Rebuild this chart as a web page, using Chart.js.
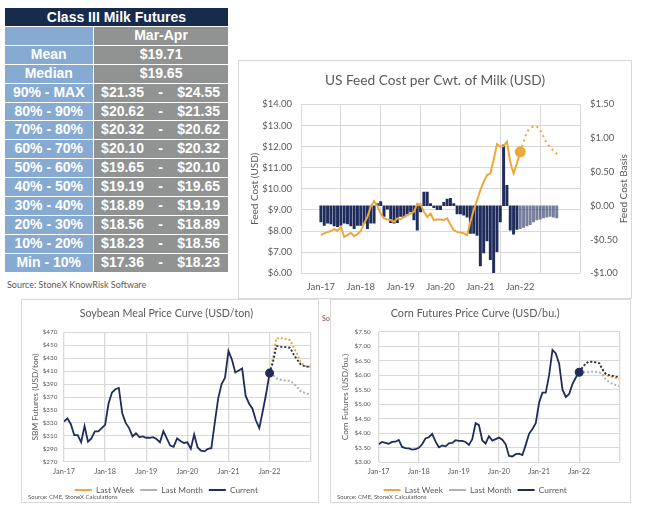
<!DOCTYPE html>
<html>
<head>
<meta charset="utf-8">
<script src="https://cdn.jsdelivr.net/npm/chart.js@4.4.0/dist/chart.umd.min.js"></script>
<style>
  body { margin:0; width:653px; height:515px; background:#fff; position:relative; overflow:hidden; }
  .box { position:absolute; border:1px solid #d9d9d9; background:#fff; }
  .box canvas { position:absolute; left:0; top:0; }
  #milk { position:absolute; left:5px; top:8px; width:223px; font-family:"Liberation Sans", Arial, sans-serif; font-weight:bold; font-size:14px; color:#fff; }
  #milk .head { height:18px; line-height:18px; background:#172b4d; text-align:center; }
  #milk .row { display:flex; height:17.9px; line-height:17.9px; margin-top:1px; }
  #milk .lab { width:87.5px; background:#87aad3; text-align:center; margin-right:1.6px; }
  #milk .val { flex:1; background:#909392; text-align:center; }
  #milk .rng { display:flex; justify-content:space-between; padding:0 8px 0 7px; }
  .src { position:absolute; font-family:Lato, sans-serif; color:#595959; white-space:nowrap; }
</style>
</head>
<body>
<div id="milk"></div>
<div class="src" style="left:7px; top:279px; font-size:9px;">Source: StoneX KnowRisk Software</div>

<div class="src" style="left:322px; top:314px; width:8px; overflow:hidden; font-size:7px;">Source: StoneX</div>

<div class="box" style="left:238px; top:60px; width:392px; height:237px;">
  <canvas id="feedChart" width="392" height="237"></canvas>
</div>

<div class="box" style="left:21px; top:299px; width:296px; height:202px;">
  <canvas id="soyChart" width="296" height="205"></canvas>
  <div class="src" style="left:6px; top:193px; font-size:6px;">Source: CME, StoneX Calculations</div>
</div>

<div class="box" style="left:330px; top:299px; width:299px; height:202px;">
  <canvas id="cornChart" width="299" height="205"></canvas>
  <div class="src" style="left:6px; top:193px; font-size:6px;">Source: CME, StoneX Calculations</div>
</div>

<script>
// ---- table data ----
const milkPeriod = 'Mar-Apr';
const milkMean = 19.71;
const milkMedian = 19.65;
const milkBands = ['90% - MAX', '80% - 90%', '70% - 80%', '60% - 70%', '50% - 60%',
                   '40% - 50%', '30% - 40%', '20% - 30%', '10% - 20%', 'Min - 10%'];
const milkLow  = [21.35, 20.62, 20.32, 20.10, 19.65, 19.19, 18.89, 18.56, 18.23, 17.36];
const milkHigh = [24.55, 21.35, 20.62, 20.32, 20.10, 19.65, 19.19, 18.89, 18.56, 18.23];

// ---- chart data (monthly, index 0 = Jan-17) ----
const yearLabels = ['Jan-17', 'Jan-18', 'Jan-19', 'Jan-20', 'Jan-21', 'Jan-22'];

// feed cost, Jan-17 .. Jan-22
const feedCostActual = [
  7.81, 7.89, 7.95, 8.00, 8.09, 8.01, 8.20, 7.73, 7.81, 7.92, 7.76, 7.86,
  8.00, 8.36, 8.67, 9.15, 9.42, 9.19, 8.83, 8.60, 8.55, 8.52, 8.44, 8.60,
  8.56, 8.67, 8.75, 8.83, 8.91, 9.30, 9.26, 8.91, 8.67, 8.83, 8.52, 8.55,
  8.55, 8.52, 8.60, 8.30, 8.04, 7.96, 7.93, 7.90, 7.80, 8.44, 8.99, 9.46,
  9.94, 10.33, 10.65, 10.73, 11.36, 12.12, 11.99, 12.02, 12.23, 11.28, 10.73, 11.20,
  11.75
];
// feed cost projection, Jan-22 .. Jan-23
const feedCostForecast = [11.75, 12.22, 12.70, 12.86, 12.97, 12.95, 12.78, 12.47, 12.15, 11.97, 11.80, 11.66, 11.56];
// feed cost basis bars, Jan-17 .. Dec-22
const feedBasis = [
  -0.24, -0.29, -0.26, -0.27, -0.30, -0.31, -0.29, -0.26, -0.27, -0.30, -0.34, -0.29,
  -0.29, -0.26, -0.34, -0.26, -0.26, 0.03, 0.06, -0.16, -0.05, -0.25, -0.26, -0.25,
  -0.16, -0.17, -0.12, -0.09, -0.21, -0.36, -0.09, 0.20, 0.20, 0.03, -0.03, -0.06,
  -0.06, 0.05, 0.10, 0.11, 0.03, -0.12, -0.12, -0.14, -0.17, -0.41, -0.41, -0.44,
  -0.89, -0.70, -0.52, -0.80, -0.99, -0.68, -0.24, 0.90, 0.30, -0.36, -0.42, -0.35,
  -0.34, -0.32, -0.30, -0.28, -0.24, -0.21, -0.20, -0.18, -0.17, -0.16, -0.17, -0.18
];

// soybean meal, USD/ton
const soyCurrent = [
  332, 337, 328, 311, 311, 300, 325, 301, 306, 317, 317, 322,
  327, 360, 377, 382, 384, 345, 330, 322, 309, 314, 308, 309,
  307, 307, 308, 305, 300, 317, 306, 295, 293, 306, 302, 299,
  300, 290, 312, 292, 287, 286, 290, 291, 330, 368, 390, 400,
  441, 428, 408, 411, 414, 372, 360, 352, 334, 322, 348, 375,
  407
];
const soyCurve     = [407, 424, 449, 448, 447, 447, 446, 436, 428, 421, 418, 417, 416];
const soyLastWeek  = [407, 430, 461, 461, 461, 459, 458, 447, 437, 424, 419, 417, 417];
const soyLastMonth = [406, 404, 399, 397, 396, 395, 395, 391, 386, 379, 377, 375, 374];

// corn, USD/bu.
const cornCurrent = [
  3.62, 3.70, 3.67, 3.64, 3.70, 3.71, 3.77, 3.53, 3.49, 3.48, 3.44, 3.45,
  3.50, 3.62, 3.82, 3.86, 3.98, 3.72, 3.52, 3.58, 3.55, 3.65, 3.67, 3.76,
  3.74, 3.74, 3.70, 3.60, 3.80, 4.35, 4.28, 3.75, 3.65, 3.90, 3.75, 3.80,
  3.85, 3.78, 3.62, 3.22, 3.20, 3.28, 3.30, 3.25, 3.60, 3.98, 4.15, 4.35,
  5.05, 5.40, 5.40, 6.00, 6.87, 6.75, 6.40, 5.50, 5.25, 5.35, 5.70, 5.92,
  6.10
];
const cornCurve     = [6.10, 6.27, 6.41, 6.47, 6.46, 6.44, 6.41, 6.20, 6.04, 6.00, 5.98, 5.95, 5.93];
const cornLastWeek  = [6.10, 6.27, 6.41, 6.47, 6.46, 6.44, 6.41, 6.18, 6.00, 5.96, 5.93, 5.90, 5.88];
const cornLastMonth = [6.08, 6.10, 6.10, 6.11, 6.12, 6.12, 6.10, 6.02, 5.85, 5.76, 5.70, 5.66, 5.63];

// --- table ---
const money = v => '$' + v.toFixed(2);
const milk = document.getElementById('milk');
let html = '<div class="head">Class III Milk Futures</div>';
html += `<div class="row"><div class="lab"></div><div class="val">${milkPeriod}</div></div>`;
html += `<div class="row"><div class="lab">Mean</div><div class="val">${money(milkMean)}</div></div>`;
html += `<div class="row"><div class="lab">Median</div><div class="val">${money(milkMedian)}</div></div>`;
milkBands.forEach((b, i) => {
  html += `<div class="row"><div class="lab">${b}</div><div class="val rng"><span>${money(milkLow[i])}</span><span>-</span><span>${money(milkHigh[i])}</span></div></div>`;
});
milk.innerHTML = html;

// --- charts ---
const NAVY = '#1f2c5c';
const ORANGE = '#eca83a';
const GREY = '#aeb1b7';
const GRID = '#d9d9d9';
const CUT = feedCostActual.length - 1; // Jan-22

Chart.defaults.font.family = 'Lato, sans-serif';
Chart.defaults.color = '#595959';

const pts = (vals, start) => vals.map((v, i) => ({ x: start + i, y: v }));
const joinCurve = (hist, curve) => pts(hist, 0).concat(pts(curve.slice(1), hist.length));

const xAxis = (height, pad, size, gridWidth) => ({
  type: 'linear', min: 0, max: 72,
  grid: { color: GRID, drawTicks: false, lineWidth: gridWidth },
  border: { display: false },
  ticks: { stepSize: 12, padding: pad, autoSkip: false, maxRotation: 0, font: { size },
           callback: v => yearLabels[v / 12] || '' },
  afterFit: s => { s.height = height; }
});

// draws the secondary axis title the way Excel does (reading bottom to top)
const sideTitle = {
  id: 'sideTitle',
  afterDraw(chart, args, opts) {
    if (!opts.text) return;
    const { ctx, chartArea } = chart;
    ctx.save();
    ctx.translate(opts.x, (chartArea.top + chartArea.bottom) / 2);
    ctx.rotate(-Math.PI / 2);
    ctx.font = opts.size + 'px Lato, sans-serif';
    ctx.fillStyle = '#595959';
    ctx.textAlign = 'center';
    ctx.textBaseline = 'middle';
    ctx.fillText(opts.text, 0, 0);
    ctx.restore();
  }
};

new Chart(document.getElementById('feedChart'), {
  type: 'bar',
  plugins: [sideTitle],
  data: {
    datasets: [
      {
        type: 'line', label: 'Feed Cost', yAxisID: 'y',
        data: joinCurve(feedCostActual, feedCostForecast),
        borderColor: ORANGE, backgroundColor: ORANGE, borderWidth: 2, tension: 0,
        pointRadius: ctx => ctx.dataIndex === CUT ? 4.5 : 0,
        segment: { borderDash: ctx => ctx.p0DataIndex >= CUT ? [2, 3.5] : undefined }
      },
      {
        type: 'bar', label: 'Feed Cost Basis', yAxisID: 'y1',
        data: pts(feedBasis, 0),
        backgroundColor: feedBasis.map((v, i) => i >= CUT ? 'rgba(31,44,92,0.6)' : NAVY),
        barThickness: 2.3
      }
    ]
  },
  options: {
    responsive: false, animation: false, events: [],
    plugins: {
      legend: { display: false }, tooltip: { enabled: false },
      title: { display: true, text: 'US Feed Cost per Cwt. of Milk (USD)', color: '#595959',
               font: { size: 13.7, weight: 'normal' }, padding: { top: 11.8, bottom: 15.1 } },
      sideTitle: { text: 'Feed Cost Basis', x: 384.3, size: 10 }
    },
    scales: {
      x: xAxis(24.7, 7.7, 9.5, 1),
      y: {
        position: 'left', min: 6, max: 14,
        grid: { color: GRID, drawTicks: false }, border: { display: false },
        ticks: { stepSize: 1, padding: 9, font: { size: 9.5 }, callback: v => money(v) },
        title: { display: true, text: 'Feed Cost (USD)', font: { size: 10 }, padding: { top: 10, bottom: 0 } },
        afterFit: s => { s.width = 62; }
      },
      y1: {
        position: 'right', min: -1, max: 1.5,
        grid: { display: false, drawTicks: false }, border: { display: false },
        ticks: { stepSize: 0.5, padding: 10, font: { size: 9.5 },
                 callback: v => (v < 0 ? '-' : '') + money(Math.abs(v)) },
        afterFit: s => { s.width = 51; }
      }
    }
  }
});

function priceCurve(id, cfg) {
  const dotted = { borderDash: () => [2, 2] };
  new Chart(document.getElementById(id), {
    type: 'line',
    data: {
      datasets: [
        { label: 'Last Week', data: pts(cfg.lastWeek, CUT), borderColor: ORANGE, backgroundColor: ORANGE,
          borderWidth: 2, pointRadius: 0, segment: dotted, order: 1 },
        { label: 'Last Month', data: pts(cfg.lastMonth, CUT), borderColor: GREY, backgroundColor: GREY,
          borderWidth: 2, pointRadius: 0, segment: dotted, order: 2 },
        { label: 'Current', data: joinCurve(cfg.current, cfg.curve), borderColor: NAVY, backgroundColor: NAVY,
          borderWidth: 1.8, pointRadius: ctx => ctx.dataIndex === CUT ? 3.6 : 0,
          segment: { borderDash: ctx => ctx.p0DataIndex >= CUT ? [2, 2] : undefined }, order: 0 }
      ]
    },
    options: {
      responsive: false, animation: false, events: [],
      layout: { padding: { right: cfg.padRight, bottom: 0.85 } },
      plugins: {
        tooltip: { enabled: false },
        title: { display: true, text: cfg.title, color: '#595959',
                 font: { size: cfg.titleSize, weight: 'normal' }, padding: { top: cfg.titleTop, bottom: cfg.titleGap } },
        legend: {
          position: 'bottom',
          labels: { usePointStyle: true, pointStyle: 'line', pointStyleWidth: 17, padding: 6,
                    font: { size: 8.3 }, color: '#595959', sort: (a, b) => a.datasetIndex - b.datasetIndex }
        }
      },
      scales: {
        x: xAxis(cfg.xHeight, cfg.xPad, 7.3, 1.3),
        y: {
          min: cfg.min, max: cfg.max,
          grid: { color: GRID, drawTicks: false }, border: { display: false },
          ticks: { stepSize: cfg.step, padding: cfg.yPad, font: { size: 6.3 }, callback: cfg.fmt },
          title: { display: true, text: cfg.yTitle, font: { size: 8.4 }, padding: { top: cfg.yTitlePad, bottom: 0 } },
          afterFit: s => { s.width = cfg.yWidth; }
        }
      }
    }
  });
}

priceCurve('soyChart', {
  title: 'Soybean Meal Price Curve (USD/ton)', yTitle: 'SBM Futures (USD/ton)',
  current: soyCurrent, curve: soyCurve, lastWeek: soyLastWeek, lastMonth: soyLastMonth,
  min: 270, max: 470, step: 20, fmt: v => '$' + v,
  yWidth: 42, yPad: 6.7, yTitlePad: 8, padRight: 7.3,
  titleSize: 10.7, titleTop: 7.6, titleGap: 11.9, xHeight: 18.15, xPad: 5.6
});

priceCurve('cornChart', {
  title: 'Corn Futures Price Curve (USD/bu.)', yTitle: 'Corn Futures (USD/bu.)',
  current: cornCurrent, curve: cornCurve, lastWeek: cornLastWeek, lastMonth: cornLastMonth,
  min: 3, max: 7.5, step: 0.5, fmt: v => money(v),
  yWidth: 47.7, yPad: 8, yTitlePad: 9, padRight: 10.7,
  titleSize: 10.8, titleTop: 7.5, titleGap: 11.2, xHeight: 17.55, xPad: 5.0
});
</script>
</body>
</html>
